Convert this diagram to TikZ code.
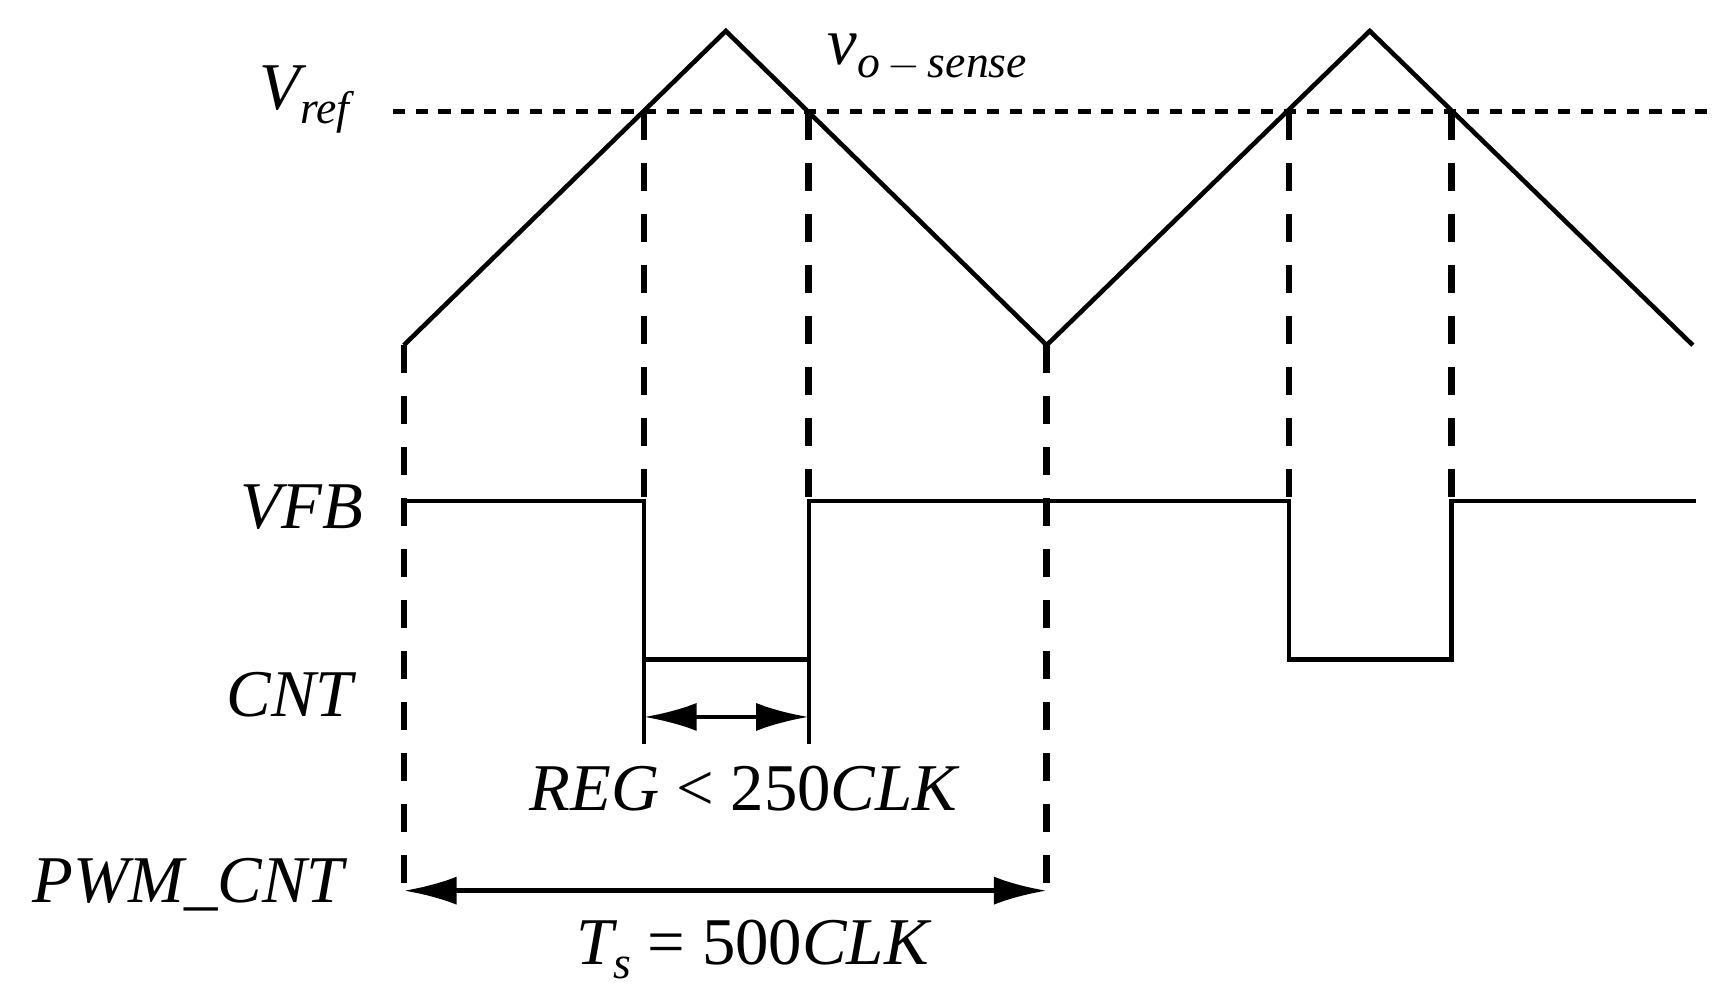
\documentclass[tikz,border=0pt]{standalone}
\usepackage{fontspec}
\setmainfont{Liberation Serif}
\usetikzlibrary{arrows.meta,positioning}
\newcommand{\lowsub}[1]{\raisebox{-0.45ex}{\fontsize{13}{14}\selectfont #1}}

\begin{document}
\begin{tikzpicture}[
  x=0.01106cm,y=-0.01106cm,
  wave/.style={line width=1.3pt,line join=miter},
  guide/.style={line width=1.9pt,dash pattern=on 8pt off 6.5pt},
  refline/.style={line width=1.3pt,dash pattern=on 3.5pt off 3pt},
  span/.style={line width=1.3pt,{Latex[length=15pt,width=8pt]}-{Latex[length=15pt,width=8pt]}},
  lbl/.style={font=\fontsize{19}{22}\selectfont\itshape,inner sep=0pt}
  ]
  \useasboundingbox (0,0) rectangle (1560,902);

  % triangle and crossing points
  \coordinate (t0) at (365,312);  \coordinate (p1) at (656,28);
  \coordinate (t1) at (946,312);  \coordinate (p2) at (1238,28);
  \coordinate (t2) at (1530,312);
  \coordinate (c1) at (582,101);  \coordinate (c2) at (731,101);
  \coordinate (c3) at (1165,101); \coordinate (c4) at (1312,101);
  \coordinate (r0) at (355,101);  \coordinate (r1) at (1548,101);

  \draw[refline] (r0) -- (r1);
  \draw[wave] (t0) -- (p1) -- (t1) -- (p2) -- (t2);

  % VFB / CNT
  \coordinate (f0) at (365,453);  \coordinate (f1) at (1533,453);
  \draw[wave] (f0) -- (582,453) -- (582,672);
  \draw[wave] (731,672) -- (731,453) -- (1165,453) -- (1165,596)
    -- (1312,596) -- (1312,453) -- (f1);
  \draw[wave] (582,596) -- (731,596);

  % guides
  \foreach \c in {c1,c2,c3,c4} \draw[guide] (\c) -- (\c |- f0);
  \draw[guide] (t0) -- (365,805);
  \draw[guide] (t1) -- (946,805);

  % spans
  \coordinate (a0) at (582,648); \coordinate (a1) at (731,648);
  \coordinate (b0) at (365,805); \coordinate (b1) at (946,805);
  \draw[span] (a0) -- (a1);
  \draw[span] (b0) -- (b1);

  % labels
  \node[lbl] (vref) at (275,90) {V\lowsub{ref}};
  \node[lbl] (vo) at (838,52) {v\lowsub{o\,{\upshape$-$}\,sense}};
  \node[lbl] (vfb) at (273,458) {VFB};
  \node[lbl] (cnt) at (262,628) {CNT};
  \node[lbl] (pwm) at (170,800) {PWM\_CNT};
  \node[lbl] (reg) at (672,713) {REG {\upshape<} {\upshape 250}CLK};
  \node[lbl] (ts) at (680,858) {T\lowsub{s} {\upshape =} {\upshape 500}CLK};
\end{tikzpicture}
\end{document}
